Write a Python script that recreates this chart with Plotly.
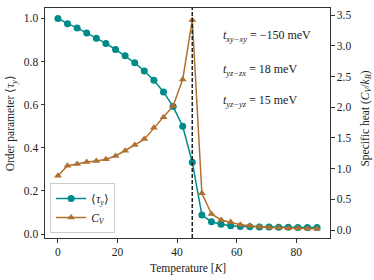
import numpy as np
import plotly.graph_objects as go

temperature = list(np.linspace(0, 87, 28))
order_param = [1.0, 0.976, 0.956, 0.933, 0.908, 0.884, 0.856, 0.827, 0.794, 0.756,
               0.713, 0.659, 0.591, 0.500, 0.333, 0.088, 0.057, 0.045, 0.038, 0.035,
               0.034, 0.033, 0.032, 0.031, 0.031, 0.030, 0.030, 0.030]
specific_heat = [0.885, 1.047, 1.075, 1.107, 1.124, 1.151, 1.205, 1.29, 1.384, 1.48,
                 1.666, 1.835, 2.02, 2.45, 3.42, 0.597, 0.26, 0.163, 0.13, 0.087,
                 0.07, 0.054, 0.043, 0.035, 0.03, 0.028, 0.025, 0.022]
t_c = 45.1
x_ticks = [0, 20, 40, 60, 80]
left_ticks = [0.0, 0.2, 0.4, 0.6, 0.8, 1.0]
right_ticks = [0.0, 0.5, 1.0, 1.5, 2.0, 2.5, 3.0, 3.5]
annotations_text = [
    "<i>t</i><sub><i>xy−xy</i></sub> = −150 meV",
    "<i>t</i><sub><i>yz−zx</i></sub> = 18 meV",
    "<i>t</i><sub><i>yz−yz</i></sub> = 15 meV",
]

teal = "#008b8b"
brown = "#b07030"
font = "Liberation Serif"

fig = go.Figure()
fig.add_trace(go.Scatter(
    x=temperature, y=order_param, mode="lines+markers", name="⟨<i>τ<sub>y</sub></i>⟩",
    line=dict(color=teal, width=1.5), marker=dict(color=teal, size=7, symbol="circle"),
    yaxis="y"))
fig.add_trace(go.Scatter(
    x=temperature, y=specific_heat, mode="lines+markers", name="<i>C<sub>V</sub></i>",
    line=dict(color=brown, width=1.5), marker=dict(color=brown, size=7, symbol="triangle-up"),
    yaxis="y2"))

fig.add_shape(type="line", x0=t_c, x1=t_c, y0=0, y1=1, xref="x", yref="paper",
              line=dict(color="#222", width=1.5, dash="4px,2px"))

ann_y = [0.878, 0.730, 0.596]
for txt, yy in zip(annotations_text, ann_y):
    fig.add_annotation(text=txt, x=0.618, y=yy, xref="paper", yref="paper",
                       xanchor="left", yanchor="middle", showarrow=False,
                       font=dict(size=12, color="#222", family=font))

# axis titles as annotations (pixel-placed)
fig.add_annotation(text="Temperature [<i>K</i>]", x=0.5, y=-0.095, xref="paper", yref="paper",
                   xanchor="center", yanchor="top", showarrow=False,
                   font=dict(size=11.5, color="#222", family=font))
fig.add_annotation(text="Order parameter ⟨<i>τ<sub>y</sub></i>⟩", x=-0.118, y=0.5,
                   xref="paper", yref="paper", xanchor="center", yanchor="middle",
                   textangle=-90, showarrow=False,
                   font=dict(size=11.5, color="#222", family=font))
fig.add_annotation(text="Specific heat (<i>C<sub>V</sub></i>/<i>k<sub>B</sub></i>)", x=1.127, y=0.52,
                   xref="paper", yref="paper", xanchor="center", yanchor="middle",
                   textangle=-90, showarrow=False,
                   font=dict(size=11.5, color="#222", family=font))

axis_common = dict(showline=True, linecolor="#333", linewidth=1, ticks="outside",
                   ticklen=3.5, tickcolor="#333", showgrid=False, zeroline=False,
                   automargin=False,
                   tickfont=dict(size=11.5, color="#222", family=font))

fig.update_layout(
    width=374, height=280,
    margin=dict(l=45, r=44, t=8, b=42),
    paper_bgcolor="white", plot_bgcolor="white",
    font=dict(family=font, size=11.5, color="#222"),
    showlegend=True,
    legend=dict(x=0.018, y=0.022, xanchor="left", yanchor="bottom",
                bordercolor="#ccc", borderwidth=1, bgcolor="rgba(255,255,255,0.8)",
                font=dict(size=11.5, family=font), tracegroupgap=0, itemwidth=30),
    xaxis=dict(range=[-4.35, 91.35], tickvals=x_ticks, mirror=True, **axis_common),
    yaxis=dict(range=[-0.0185, 1.0485], tickvals=left_ticks, tickformat=".1f", **axis_common),
    yaxis2=dict(range=[-0.13, 3.615], tickvals=right_ticks, tickformat=".1f",
                overlaying="y", side="right", **axis_common),
)

fig.write_html("out.html", config={"displayModeBar": False},
               post_script="document.body.style.margin='0';document.body.style.overflow='hidden';")
